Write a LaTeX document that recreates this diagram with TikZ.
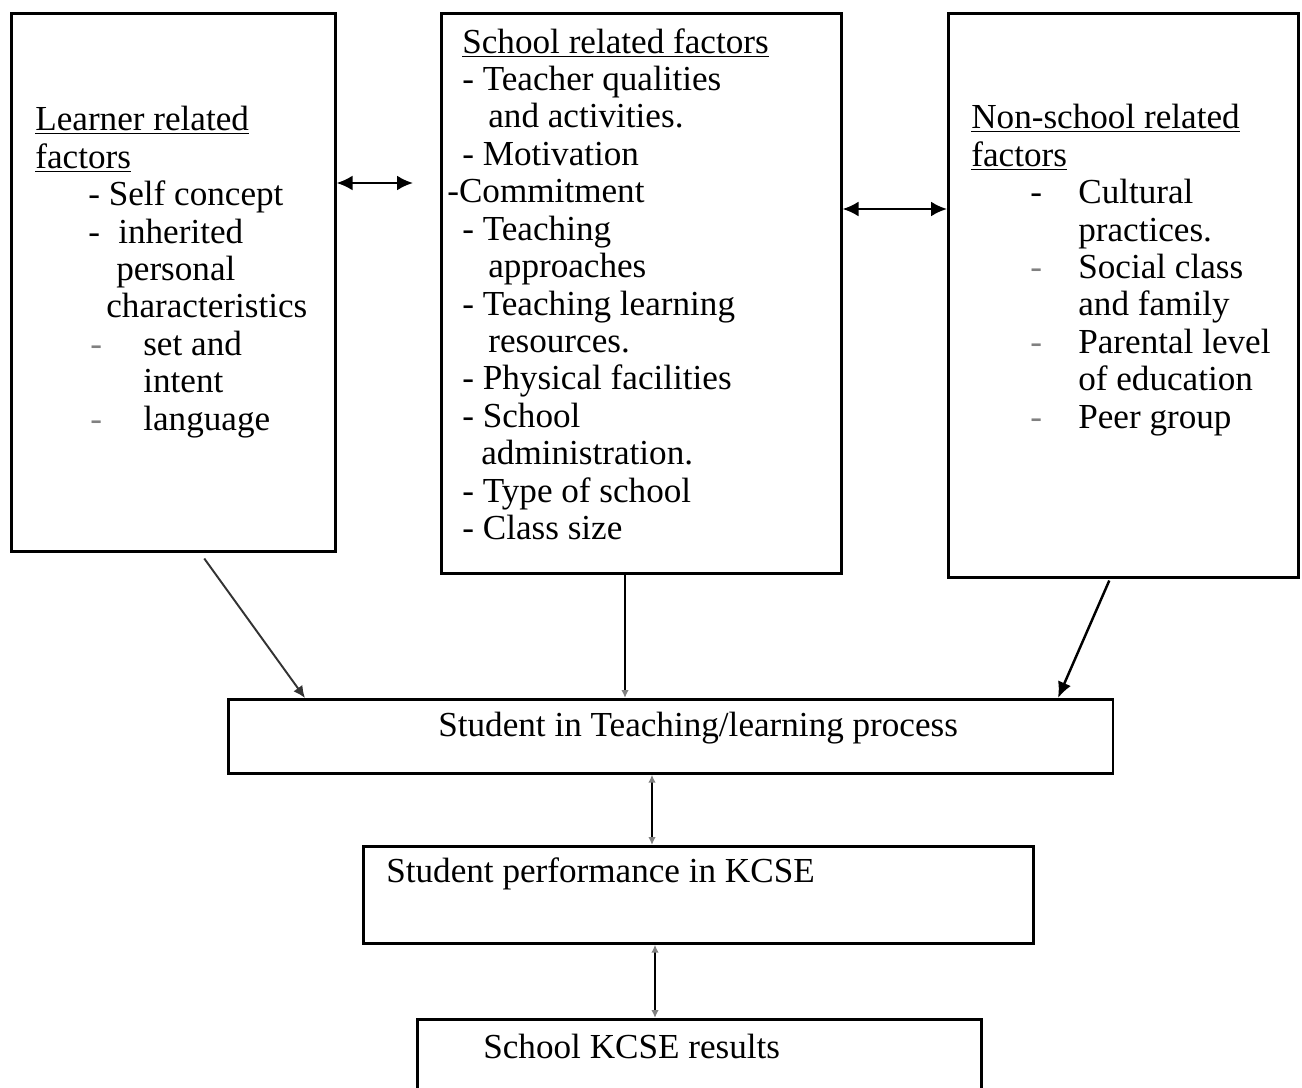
\documentclass[tikz,border=0pt]{standalone}
\usepackage{fontspec}
\setmainfont{Liberation Serif}
\usetikzlibrary{arrows.meta,positioning}

\begin{document}
\begin{tikzpicture}[
    x=0.02cm, y=-0.02cm,
    box/.style={rectangle, draw, line width=1.5pt, anchor=north west, inner sep=0pt},
    txt/.style={anchor=north west, inner sep=0pt, align=left, font=\fontsize{20}{21.3}\selectfont},
    caption/.style={anchor=west, inner sep=0pt, font=\fontsize{20}{21.3}\selectfont},
    link/.style={{Latex[length=3.2mm,width=3mm]}-{Latex[length=3.2mm,width=3mm]}, line width=1.4pt},
    feed/.style={-{Latex[length=3.2mm,width=2.8mm]}, line width=1.4pt},
    faint/.style={{Latex[length=1.6mm,width=1.5mm,color=gray]}-{Latex[length=1.6mm,width=1.5mm,color=gray]}, line width=1.4pt}
  ]
  \useasboundingbox (0,0) rectangle (1302,1088);

  % factor boxes
  \node[box, minimum width=6.48cm, minimum height=10.76cm] (learner) at (10,12) {};
  \node[box, minimum width=8cm, minimum height=11.2cm] (school) at (440,12) {};
  \node[box, minimum width=7cm, minimum height=11.28cm] (nonschool) at (947,12) {};

  \node[txt] (learnertext) at (35,106) {\underline{Learner related}\\
    \underline{factors}\\
    \hspace*{10.6mm}- Self concept\\
    \hspace*{10.6mm}\makebox[6mm][l]{-}inherited\\
    \hspace*{16.2mm}personal\\
    \hspace*{14.2mm}characteristics\\
    \hspace*{11mm}\makebox[10.6mm][l]{\color{gray}-}set and\\
    \hspace*{21.6mm}intent\\
    \hspace*{11mm}\makebox[10.6mm][l]{\color{gray}-}language};

  \node[txt] (schooltext) at (462,28) {\underline{School related factors}\\
    - Teacher qualities\\
    \hspace*{5.2mm}and activities.\\
    - Motivation\\
    \hspace*{-3mm}-Commitment\\
    - Teaching\\
    \hspace*{5.2mm}approaches\\
    - Teaching learning\\
    \hspace*{5.2mm}resources.\\
    - Physical facilities\\
    - School\\
    \hspace*{3.8mm}administration.\\
    - Type of school\\
    - Class size};

  \node[txt] (nonschooltext) at (971,104) {\underline{Non-school related}\\
    \underline{factors}\\
    \hspace*{11.8mm}\makebox[9.6mm][l]{-}Cultural\\
    \hspace*{21.4mm}practices.\\
    \hspace*{11.8mm}\makebox[9.6mm][l]{\color{gray}-}Social class\\
    \hspace*{21.4mm}and family\\
    \hspace*{11.8mm}\makebox[9.6mm][l]{\color{gray}-}Parental level\\
    \hspace*{21.4mm}of education\\
    \hspace*{11.8mm}\makebox[9.6mm][l]{\color{gray}-}Peer group};

  % process boxes
  \node[box, minimum width=17.7cm, minimum height=1.48cm] (process) at (227,698) {};
  \node[box, minimum width=13.4cm, minimum height=1.94cm] (perf) at (362,845) {};
  \node[box, minimum width=11.28cm, minimum height=1.84cm] (results) at (416,1018) {};

  \node[caption] (processtext) at (438,728) {Student in Teaching/learning process};
  \node[caption] (perftext) at (386,874) {Student performance in KCSE};
  \node[caption] (resultstext) at (483,1046) {School KCSE results};

  % connectors
  \coordinate (lsgap) at (413,183);
  \draw[link] (learner.east |- lsgap) -- (lsgap);
  \draw[link] (school.east |- 0,209) -- (nonschool.west |- 0,209);
  \draw[feed, black!80, line width=1.1pt, -{Latex[length=2.4mm,width=2.2mm]}] ([xshift=0.62cm,yshift=-0.12cm]learner.south) -- (process.north -| 305,0);
  \draw[line width=1.4pt, -{Latex[length=1.6mm,width=1.5mm,color=gray]}] (school.south -| 625,0) -- (process.north -| 625,0);
  \draw[feed] ([xshift=-0.28cm,yshift=-0.04cm]nonschool.south) -- (process.north -| 1058,0);
  \draw[faint] (process.south -| 652,0) -- (perf.north -| 652,0);
  \draw[faint] (perf.south -| 655,0) -- (results.north -| 655,0);
\end{tikzpicture}
\end{document}
